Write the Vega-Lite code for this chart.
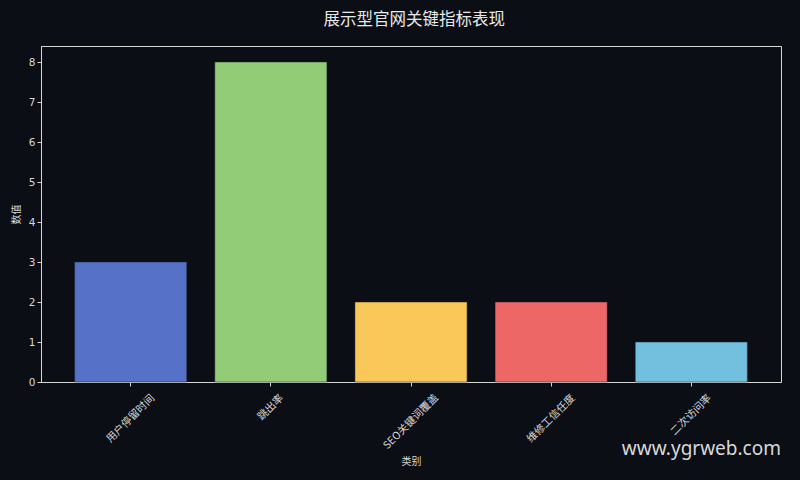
{
  "$schema": "https://vega.github.io/schema/vega-lite/v6.json",
  "background": "#0b0e15",
  "autosize": "pad",
  "padding": {"left": 10, "top": 12, "right": 20, "bottom": 40},
  "title": {
    "text": "展示型官网关键指标表现",
    "fontSize": 16.5,
    "fontWeight": "normal",
    "color": "#e8e8e8",
    "font": "Noto Sans CJK SC",
    "anchor": "middle",
    "offset": 17,
    "dx": 18
  },
  "config": {
    "font": "Noto Sans CJK SC",
    "view": {"stroke": "#d6d6d6", "strokeWidth": 1}
  },
  "vconcat": [
    {
      "width": 740,
      "height": 336,
      "title": {
        "text": "www.ygrweb.com",
        "orient": "bottom",
        "anchor": "end",
        "frame": "group",
        "font": "Noto Sans",
        "fontSize": 19,
        "fontWeight": "normal",
        "color": "#d8d8d8",
        "offset": -27
      },
      "data": {
        "values": [
          {"类别": "用户停留时间", "数值": 3},
          {"类别": "跳出率", "数值": 8},
          {"类别": "SEO关键词覆盖", "数值": 2},
          {"类别": "维修工信任度", "数值": 2},
          {"类别": "二次访问率", "数值": 1}
        ]
      },
      "mark": {"type": "bar", "stroke": "#1b1f2a", "strokeOpacity": 0.5, "strokeWidth": 1},
      "encoding": {
        "x": {
          "field": "类别",
          "type": "nominal",
          "sort": null,
          "scale": {"paddingInner": 0.2, "paddingOuter": 0.24},
          "axis": {
            "title": "类别",
            "titleColor": "#d8d8d8",
            "titleFontSize": 10,
            "titleFontWeight": "normal",
            "titlePadding": 6,
            "labelAngle": -45,
            "labelAlign": "center",
            "labelBaseline": "middle",
            "labelColor": "#d8d8d8",
            "labelFontSize": 10.5,
            "labelPadding": {"expr": "6 + 0.354 * ((datum.label == 'SEO关键词覆盖' ? 72 : length(datum.label) * 10.5) + 11)"},
            "domainColor": "#d6d6d6",
            "tickColor": "#d6d6d6",
            "tickSize": 4
          }
        },
        "y": {
          "field": "数值",
          "type": "quantitative",
          "scale": {"domain": [0, 8.4], "nice": false},
          "axis": {
            "title": "数值",
            "titleColor": "#d8d8d8",
            "titleFontSize": 10,
            "titleFontWeight": "normal",
            "titlePadding": 7,
            "values": [0, 1, 2, 3, 4, 5, 6, 7, 8],
            "grid": false,
            "labelColor": "#d8d8d8",
            "labelFontSize": 10.5,
            "labelFont": "DejaVu Sans",
            "domainColor": "#d6d6d6",
            "tickColor": "#d6d6d6",
            "tickSize": 4
          }
        },
        "color": {
          "field": "类别",
          "type": "nominal",
          "sort": null,
          "legend": null,
          "scale": {
            "domain": ["用户停留时间", "跳出率", "SEO关键词覆盖", "维修工信任度", "二次访问率"],
            "range": ["#5571c8", "#92cc76", "#fac858", "#ee6767", "#73bfde"]
          }
        }
      }
    }
  ]
}
